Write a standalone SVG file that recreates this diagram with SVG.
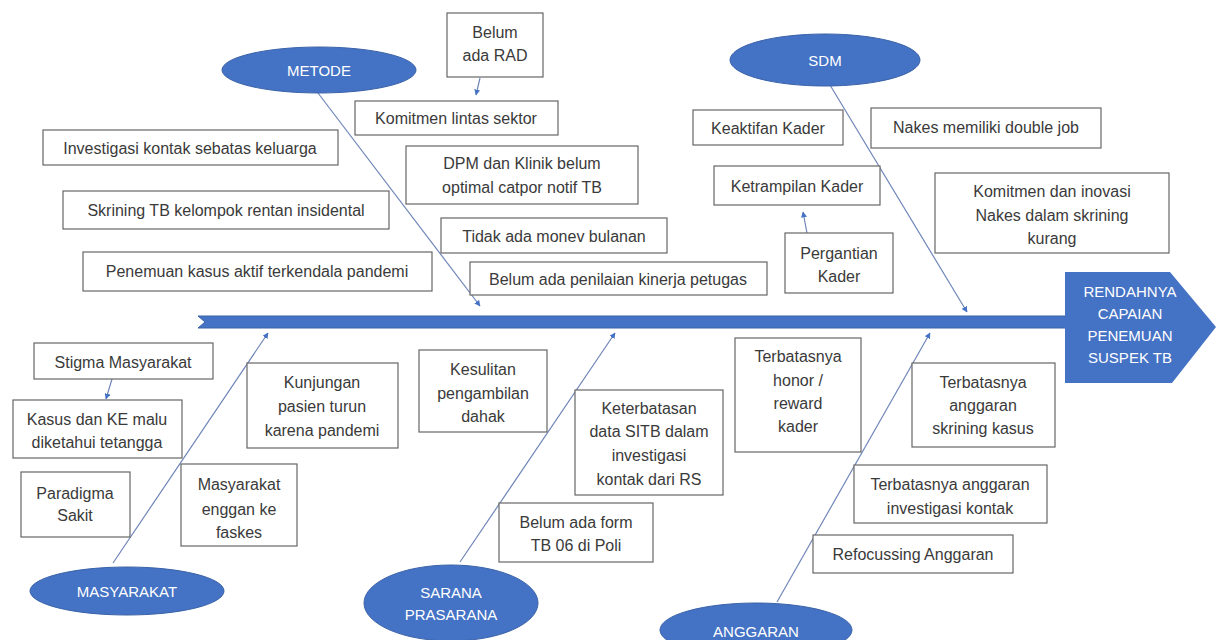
<svg xmlns="http://www.w3.org/2000/svg" width="1216" height="640" viewBox="0 0 1216 640">
<defs>
<marker id="ah" viewBox="0 0 10 10" refX="9" refY="5" markerWidth="5" markerHeight="5" orient="auto"><path d="M0,0 L10,5 L0,10 z" fill="#4472C4"/></marker>
<style>
.box{fill:#fff;stroke:#666;stroke-width:1.2}
.t{font-family:"Liberation Sans",Arial,sans-serif;font-size:16px;fill:#3a3a3a;text-anchor:middle}
.cat{fill:#4472C4;stroke:#3a62a8;stroke-width:1}
.ct{font-family:"Liberation Sans",Arial,sans-serif;font-size:15px;fill:#fff;text-anchor:middle}
.bone{stroke:#6f86b8;stroke-width:1.2;fill:none}
</style>
</defs>
<rect width="1216" height="640" fill="#fff"/>

<g id="spine">
<polygon points="198,316 1068,316 1068,328 198,328 205,322" fill="#4472C4" stroke="#3a62a8" stroke-width="1"/>
</g>
<g id="head">
<polygon points="1065,272 1170,272 1216,327 1172,383 1065,383" fill="#4472C4"/>
<text class="ct" x="1130" y="297">RENDAHNYA</text>
<text class="ct" x="1130" y="319">CAPAIAN</text>
<text class="ct" x="1130" y="341">PENEMUAN</text>
<text class="ct" x="1130" y="363">SUSPEK TB</text>
</g>

<g id="connectors">
<line class="bone" x1="318" y1="93" x2="480" y2="306" marker-end="url(#ah)"/>
<line class="bone" x1="830" y1="85" x2="967" y2="312" marker-end="url(#ah)"/>
<line class="bone" x1="113" y1="563" x2="268" y2="333" marker-end="url(#ah)"/>
<line class="bone" x1="460" y1="562" x2="615" y2="333" marker-end="url(#ah)"/>
<line class="bone" x1="777" y1="602" x2="930" y2="333" marker-end="url(#ah)"/>
<line class="bone" x1="480" y1="78" x2="476" y2="95" marker-end="url(#ah)"/>
<line class="bone" x1="807" y1="233" x2="803" y2="212" marker-end="url(#ah)"/>
<line class="bone" x1="112" y1="379" x2="106" y2="399" marker-end="url(#ah)"/>
</g>

<g id="cat-metode"><ellipse class="cat" cx="319" cy="70" rx="97" ry="23"/><text class="ct" x="319" y="76">METODE</text></g>
<g id="cat-sdm"><ellipse class="cat" cx="825" cy="60" rx="95" ry="26"/><text class="ct" x="825" y="66">SDM</text></g>
<g id="cat-masyarakat"><ellipse class="cat" cx="127" cy="591" rx="97" ry="24"/><text class="ct" x="127" y="597">MASYARAKAT</text></g>
<g id="cat-sarana"><ellipse class="cat" cx="451" cy="603" rx="87" ry="38"/><text class="ct" x="451" y="598">SARANA</text><text class="ct" x="451" y="620">PRASARANA</text></g>
<g id="cat-anggaran"><ellipse class="cat" cx="756" cy="630" rx="96" ry="27"/><text class="ct" x="756" y="637">ANGGARAN</text></g>

<g id="n-rad"><rect class="box" x="447" y="13" width="96" height="64"/><text class="t" x="495" y="38">Belum</text><text class="t" x="495" y="61">ada RAD</text></g>
<g id="n-komitmen"><rect class="box" x="355" y="101" width="203" height="34"/><text class="t" x="456" y="124">Komitmen lintas sektor</text></g>
<g id="n-investigasi"><rect class="box" x="43" y="130" width="295" height="35"/><text class="t" x="190" y="154">Investigasi kontak sebatas keluarga</text></g>
<g id="n-dpm"><rect class="box" x="406" y="146" width="232" height="58"/><text class="t" x="522" y="169">DPM dan Klinik belum</text><text class="t" x="522" y="193">optimal catpor notif TB</text></g>
<g id="n-skrining"><rect class="box" x="63" y="191" width="326" height="38"/><text class="t" x="226" y="216">Skrining TB kelompok rentan insidental</text></g>
<g id="n-monev"><rect class="box" x="441" y="218" width="226" height="35"/><text class="t" x="554" y="242">Tidak ada monev bulanan</text></g>
<g id="n-penemuan"><rect class="box" x="83" y="252" width="349" height="39"/><text class="t" x="257" y="277">Penemuan kasus aktif terkendala pandemi</text></g>
<g id="n-penilaian"><rect class="box" x="470" y="262" width="297" height="33"/><text class="t" x="618" y="285">Belum ada penilaian kinerja petugas</text></g>

<g id="n-keaktifan"><rect class="box" x="693" y="110" width="150" height="35"/><text class="t" x="768" y="134">Keaktifan Kader</text></g>
<g id="n-nakes"><rect class="box" x="871" y="108" width="230" height="40"/><text class="t" x="986" y="133">Nakes memiliki double job</text></g>
<g id="n-ketrampilan"><rect class="box" x="714" y="166" width="166" height="39"/><text class="t" x="797" y="192">Ketrampilan Kader</text></g>
<g id="n-pergantian"><rect class="box" x="785" y="233" width="108" height="60"/><text class="t" x="839" y="259">Pergantian</text><text class="t" x="839" y="282">Kader</text></g>
<g id="n-komitmen-nakes"><rect class="box" x="935" y="173" width="234" height="80"/><text class="t" x="1052" y="197">Komitmen dan inovasi</text><text class="t" x="1052" y="221">Nakes dalam skrining</text><text class="t" x="1052" y="244">kurang</text></g>

<g id="n-stigma"><rect class="box" x="34" y="343" width="179" height="36"/><text class="t" x="123" y="368">Stigma Masyarakat</text></g>
<g id="n-kasus"><rect class="box" x="13" y="400" width="169" height="58"/><text class="t" x="97" y="425">Kasus dan KE malu</text><text class="t" x="97" y="448">diketahui tetangga</text></g>
<g id="n-paradigma"><rect class="box" x="21" y="472" width="109" height="65"/><text class="t" x="75" y="499">Paradigma</text><text class="t" x="75" y="521">Sakit</text></g>
<g id="n-enggan"><rect class="box" x="181" y="464" width="116" height="82"/><text class="t" x="239" y="490">Masyarakat</text><text class="t" x="239" y="515">enggan ke</text><text class="t" x="239" y="538">faskes</text></g>
<g id="n-kunjungan"><rect class="box" x="247" y="363" width="151" height="85"/><text class="t" x="322" y="388">Kunjungan</text><text class="t" x="322" y="412">pasien turun</text><text class="t" x="322" y="436">karena pandemi</text></g>

<g id="n-kesulitan"><rect class="box" x="419" y="350" width="128" height="82"/><text class="t" x="483" y="375">Kesulitan</text><text class="t" x="483" y="399">pengambilan</text><text class="t" x="483" y="422">dahak</text></g>
<g id="n-keterbatasan"><rect class="box" x="575" y="390" width="148" height="105"/><text class="t" x="649" y="414">Keterbatasan</text><text class="t" x="649" y="437">data SITB dalam</text><text class="t" x="649" y="461">investigasi</text><text class="t" x="649" y="485">kontak dari RS</text></g>
<g id="n-form"><rect class="box" x="499" y="503" width="154" height="59"/><text class="t" x="576" y="528">Belum ada form</text><text class="t" x="576" y="551">TB 06 di Poli</text></g>

<g id="n-honor"><rect class="box" x="735" y="338" width="126" height="114"/><text class="t" x="798" y="362">Terbatasnya</text><text class="t" x="798" y="386">honor /</text><text class="t" x="798" y="409">reward</text><text class="t" x="798" y="432">kader</text></g>
<g id="n-skrining-kasus"><rect class="box" x="912" y="363" width="143" height="84"/><text class="t" x="983" y="388">Terbatasnya</text><text class="t" x="983" y="411">anggaran</text><text class="t" x="983" y="434">skrining kasus</text></g>
<g id="n-investigasi-kontak"><rect class="box" x="854" y="465" width="193" height="58"/><text class="t" x="950" y="490">Terbatasnya anggaran</text><text class="t" x="950" y="514">investigasi kontak</text></g>
<g id="n-refocussing"><rect class="box" x="813" y="535" width="200" height="38"/><text class="t" x="913" y="560">Refocussing Anggaran</text></g>
</svg>
